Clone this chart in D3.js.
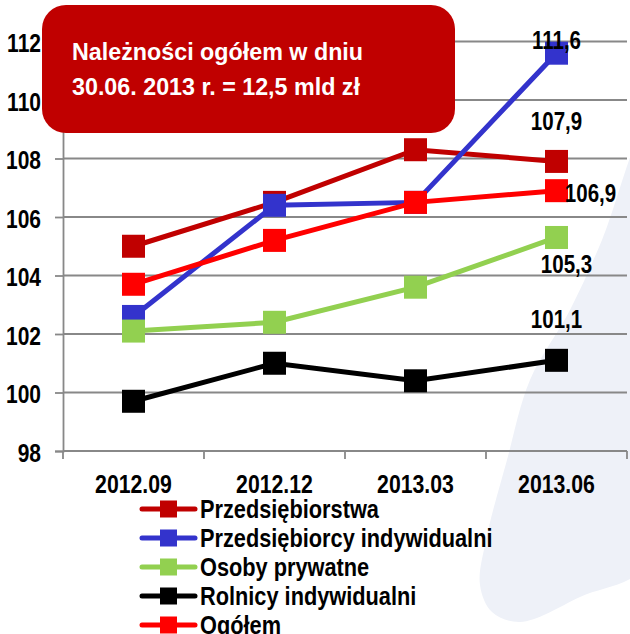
<!DOCTYPE html>
<html lang="pl">
<head>
<meta charset="UTF-8">
<title>Należności</title>
<script src="https://cdn.jsdelivr.net/npm/d3@7"></script>
<style>
  body { margin: 0; background: #fff; }
  svg text { font-family: "Liberation Sans", Arial, sans-serif; font-weight: bold; }
</style>
</head>
<body>
<svg width="630" height="634"></svg>
<script>
// dane
var categories = ["2012.09", "2012.12", "2013.03", "2013.06"];
var seriesNames = ["Przedsiębiorstwa", "Przedsiębiorcy indywidualni", "Osoby prywatne", "Rolnicy indywidualni", "Ogółem"];
var przedsiebiorstwa = [105.0, 106.5, 108.3, 107.9];
var przedsiebiorcy = [102.6, 106.4, 106.5, 111.6];
var osobyPrywatne = [102.1, 102.4, 103.6, 105.3];
var rolnicy = [99.7, 101.0, 100.4, 101.1];
var ogolem = [103.7, 105.2, 106.5, 106.9];
var yTicks = [98, 100, 102, 104, 106, 108, 110, 112];
var colors = ["#c00000", "#3333cc", "#92d050", "#000000", "#ff0000"];
var lastLabels = ["107,9", "111,6", "105,3", "101,1", "106,9"];

var svg = d3.select("svg");
var margin = {left: 63, right: 3, top: 41.5, bottom: 183};
var width = +svg.attr("width");
var height = +svg.attr("height");
var fs = 25;          // rozmiar czcionki

// zwężenie napisu (imitacja Arial Narrow)
function squeeze(sel, k) {
    sel.each(function () {
        var w = this.getComputedTextLength();
        d3.select(this)
            .attr("textLength", w * k)
            .attr("lengthAdjust", "spacingAndGlyphs");
    });
}

// tło - jasny kształt po prawej
var blob = [[645, 130], [602, 240], [570, 310], [530, 380], [507, 460], [486, 540],
            [480, 585], [492, 612], [520, 622], [580, 597], [650, 560]];
svg.append("path")
    .attr("d", d3.line().curve(d3.curveCatmullRomClosed)(blob))
    .attr("fill", "#eef1f8");

var x = d3.scaleBand()
    .domain(categories)
    .range([margin.left, width - margin.right]);
var y = d3.scaleLinear()
    .domain([98, 112])
    .range([height - margin.bottom, margin.top]);

// siatka
svg.append("g")
    .selectAll("line")
    .data(yTicks.slice(1))
    .enter()
    .append("line")
    .attr("x1", margin.left)
    .attr("x2", width - margin.right)
    .attr("y1", function (d) { return y(d); })
    .attr("y2", function (d) { return y(d); })
    .attr("stroke", "#888")
    .attr("stroke-width", 1.8);

var yAxis = d3.axisLeft(y).tickValues(yTicks).tickSize(8).tickPadding(14);
var gy = svg.append("g")
    .attr("transform", "translate(" + margin.left + ",0)")
    .call(yAxis);
gy.select(".domain").attr("stroke", "#888").attr("stroke-width", 1.8);
gy.selectAll(".tick line").attr("stroke", "#888").attr("stroke-width", 1.8);
gy.selectAll(".tick text").attr("font-size", fs).attr("fill", "#000").attr("dy", "0.4em");

var xAxis = d3.axisBottom(x).tickSize(0).tickPadding(24);
var gx = svg.append("g")
    .attr("transform", "translate(0," + y(98) + ")")
    .call(xAxis);
gx.select(".domain").remove();
gx.selectAll(".tick text").attr("font-size", fs).attr("fill", "#000");
svg.selectAll(".tick text").attr("font-family", null);
squeeze(gy.selectAll(".tick text"), 0.84);
squeeze(gx.selectAll(".tick text"), 0.85);

// znaczniki osi x na granicach kategorii
svg.append("g")
    .selectAll("line")
    .data(categories.concat(["koniec"]))
    .enter()
    .append("line")
    .attr("x1", function (d, i) { return margin.left + i * x.bandwidth(); })
    .attr("x2", function (d, i) { return margin.left + i * x.bandwidth(); })
    .attr("y1", y(98))
    .attr("y2", y(98) + 8)
    .attr("stroke", "#888")
    .attr("stroke-width", 1.8);
svg.append("line")
    .attr("x1", margin.left).attr("x2", width - margin.right)
    .attr("y1", y(98)).attr("y2", y(98))
    .attr("stroke", "#888").attr("stroke-width", 1.8);

// serie
var allSeries = [przedsiebiorstwa, przedsiebiorcy, osobyPrywatne, rolnicy, ogolem];
var cx = function (i) { return x(categories[i]) + x.bandwidth() / 2; };
var line = d3.line()
    .x(function (d, i) { return cx(i); })
    .y(function (d) { return y(d); });
var ms = 23;

allSeries.forEach(function (s, k) {
    var g = svg.append("g");
    g.append("path")
        .attr("d", line(s))
        .attr("fill", "none")
        .attr("stroke", colors[k])
        .attr("stroke-width", 5);
    g.selectAll("rect")
        .data(s)
        .enter()
        .append("rect")
        .attr("x", function (d, i) { return cx(i) - ms / 2; })
        .attr("y", function (d) { return y(d) - ms / 2; })
        .attr("width", ms)
        .attr("height", ms)
        .attr("fill", colors[k]);
});

// etykiety ostatnich wartości
var labelOffsets = [[0, -31], [0, -4], [10, 36], [0, -32], [34, 11]];
var labels = svg.append("g");
allSeries.forEach(function (s, k) {
    var o = labelOffsets[k];
    labels.append("text")
        .attr("x", cx(3) + o[0])
        .attr("y", y(s[3]) + o[1])
        .attr("text-anchor", "middle")
        .attr("font-size", fs)
        .attr("fill", "#000")
        .text(lastLabels[k]);
});
squeeze(labels.selectAll("text"), 0.82);

// ramka z informacją
svg.append("rect")
    .attr("x", 42).attr("y", 5)
    .attr("width", 413).attr("height", 128)
    .attr("rx", 24).attr("ry", 24)
    .attr("fill", "#c00000");
var box = svg.append("g");
box.append("text")
    .attr("x", 72).attr("y", 60)
    .attr("font-size", 24).attr("fill", "#fff")
    .text("Należności ogółem w dniu");
box.append("text")
    .attr("x", 72).attr("y", 95)
    .attr("font-size", 24).attr("fill", "#fff")
    .text("30.06. 2013 r. = 12,5 mld zł");
squeeze(box.selectAll("text"), 0.97);

// legenda
var legend = svg.append("g")
    .selectAll("g")
    .data(seriesNames)
    .enter()
    .append("g")
    .attr("transform", function (d, i) { return "translate(140," + (509 + i * 29) + ")"; });
legend.append("line")
    .attr("x1", 2).attr("x2", 55)
    .attr("stroke", function (d, i) { return colors[i]; })
    .attr("stroke-width", 5)
    .attr("stroke-linecap", "round");
legend.append("rect")
    .attr("x", 20).attr("y", -8.5)
    .attr("width", 17).attr("height", 17)
    .attr("fill", function (d, i) { return colors[i]; });
legend.append("text")
    .attr("x", 60).attr("y", 9)
    .attr("font-size", fs)
    .attr("fill", "#000")
    .text(function (d) { return d; });
squeeze(legend.selectAll("text"), 0.87);
</script>
</body>
</html>
